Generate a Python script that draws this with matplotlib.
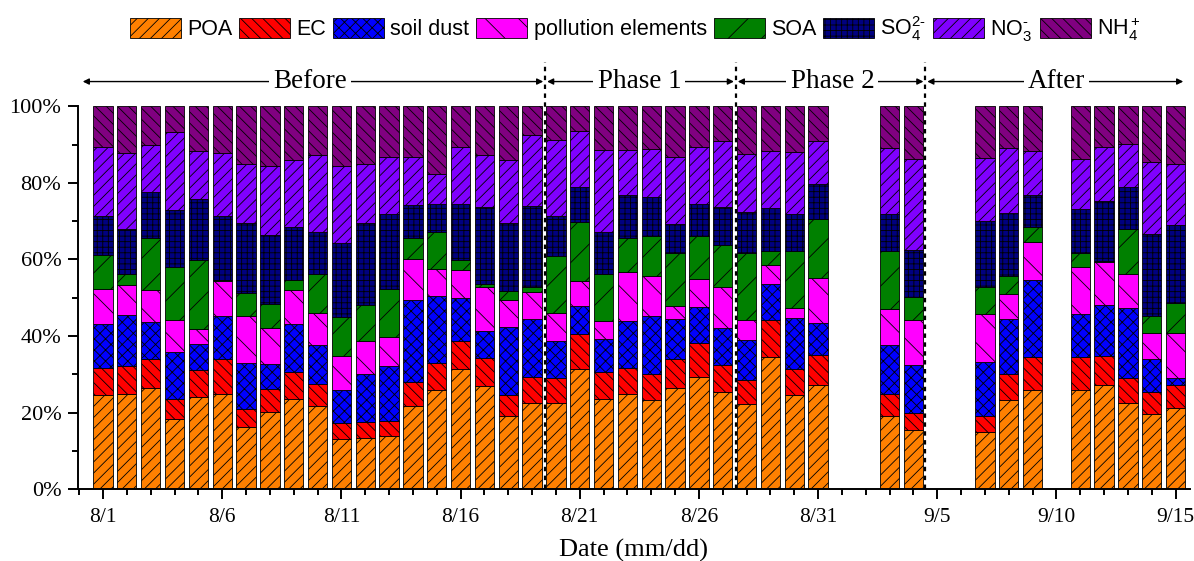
import numpy as np
import matplotlib
matplotlib.use('Agg')
import matplotlib.pyplot as plt
from matplotlib.ticker import MultipleLocator, FuncFormatter

# sampling days (9/1, 9/2, 9/5, 9/6, 9/10 have no data)
dates = ['8/%d' % d for d in range(1, 32)] + \
        ['9/3', '9/4', '9/7', '9/8', '9/9', '9/11', '9/12', '9/13', '9/14', '9/15']

poa = [24.6, 24.9, 26.3, 18.2, 24.0, 24.9, 16.2, 20.1, 23.6, 21.6,
       13.1, 13.4, 13.8, 21.6, 25.8, 31.4, 26.8, 19.0, 22.5, 22.5,
       31.4, 23.6, 24.9, 23.3, 26.4, 29.4, 25.3, 22.3, 34.5, 24.5,
       27.1, 19.2, 15.5, 14.8, 23.3, 26.0, 26.0, 27.3, 22.4, 19.7, 21.2]
ec = [7.1, 7.2, 7.8, 5.3, 7.0, 9.2, 4.6, 6.1, 7.0, 5.9,
      4.1, 4.1, 3.9, 6.3, 7.2, 7.3, 7.5, 5.6, 6.9, 6.6,
      9.0, 7.0, 6.8, 6.7, 7.7, 8.8, 7.0, 6.3, 9.8, 6.9,
      8.0, 5.7, 4.4, 4.4, 6.8, 8.5, 8.5, 7.5, 6.7, 5.6, 6.1]
soil = [11.4, 13.3, 9.6, 12.3, 6.8, 11.3, 12.2, 6.6, 12.6, 10.2,
        8.6, 12.6, 14.4, 21.4, 17.4, 11.3, 7.0, 17.8, 15.0, 9.5,
        7.4, 8.7, 12.2, 15.2, 10.4, 9.4, 9.9, 10.3, 9.2, 13.3,
        8.3, 12.7, 12.6, 14.0, 14.4, 20.1, 11.2, 13.5, 18.3, 8.6, 1.8]
pollution = [9.3, 8.0, 8.3, 8.3, 4.0, 9.2, 12.2, 9.3, 8.8, 8.2,
             9.0, 8.5, 7.6, 10.8, 7.0, 7.2, 11.4, 6.9, 7.1, 7.3,
             6.6, 4.6, 12.9, 10.5, 3.4, 7.2, 10.5, 5.4, 5.0, 2.5,
             11.8, 9.4, 11.8, 12.5, 6.6, 10.0, 12.4, 11.1, 8.8, 7.0, 11.8]
soa = [8.7, 2.7, 13.5, 14.0, 18.0, 0.3, 6.1, 6.2, 2.6, 10.4,
       10.2, 9.4, 12.5, 5.4, 9.8, 2.6, 1.0, 2.4, 1.2, 15.0,
       15.5, 12.4, 8.7, 10.5, 13.8, 11.4, 11.2, 17.4, 3.7, 15.1,
       15.5, 15.2, 5.9, 7.1, 4.6, 4.0, 3.5, 0.3, 11.7, 4.3, 7.8]
so4 = [10.3, 11.8, 12.1, 14.8, 16.0, 16.8, 18.1, 18.1, 14.0, 10.9,
       19.4, 21.4, 19.7, 8.7, 7.3, 14.7, 19.9, 17.7, 21.3, 10.5,
       9.0, 10.9, 11.4, 10.2, 7.6, 8.3, 9.9, 10.8, 11.3, 9.6,
       9.0, 9.7, 12.2, 17.3, 16.4, 8.3, 11.6, 15.9, 11.0, 21.4, 20.3]
no3 = [17.9, 19.9, 12.4, 20.5, 12.6, 16.4, 15.5, 17.9, 17.3, 20.1,
       20.1, 15.5, 15.0, 12.7, 7.8, 14.8, 13.7, 16.5, 18.4, 19.7,
       14.8, 21.3, 11.6, 12.5, 17.6, 14.8, 17.2, 15.1, 14.9, 16.1,
       11.3, 17.2, 23.8, 16.5, 17.0, 11.5, 13.0, 14.0, 11.2, 19.0, 15.9]
nh4 = [10.7, 12.2, 10.0, 6.6, 11.6, 12.2, 15.1, 15.7, 14.1, 12.7,
       15.5, 15.1, 13.1, 13.1, 17.7, 10.7, 12.7, 14.1, 7.6, 8.9,
       6.3, 11.5, 11.5, 11.1, 13.1, 10.7, 9.0, 12.4, 11.6, 12.0,
       9.0, 10.9, 13.8, 13.4, 10.9, 11.6, 13.8, 10.7, 9.9, 14.4, 15.1]

labels = ['POA', 'EC', 'soil dust', 'pollution elements', 'SOA',
          r'SO$_4^{2\text{-}}$', r'NO$_3^{\text{-}}$', r'NH$_4^+$']
tick_dates = ['8/1', '8/6', '8/11', '8/16', '8/21', '8/26', '8/31', '9/5', '9/10', '9/15']
phases = ['Before', 'Phase 1', 'Phase 2', 'After']
phase_bounds = [18.55, 26.55, 34.5]   # between 8/19|8/20, 8/27|8/28, 9/4|9/5


def day_index(s):
    m, d = s.split('/')
    return (int(m) - 8) * 31 + int(d) - 1


plt.rcParams['hatch.linewidth'] = 0.6
plt.rcParams['mathtext.fontset'] = 'custom'
plt.rcParams['mathtext.rm'] = 'Liberation Sans'
plt.rcParams['mathtext.it'] = 'Liberation Sans'

x = np.array([day_index(d) for d in dates])
data = np.array([poa, ec, soil, pollution, soa, so4, no3, nh4])
data = data / data.sum(axis=0) * 100

colors = ['#FF8000', '#FF0000', '#0000FF', '#FF00FF', '#008000', '#000080', '#8000FF', '#800080']
hatches = ['///', '\\\\\\', 'xxx', '\\', '/', '+++', '///', '\\\\\\']

fig = plt.figure(figsize=(11.94, 5.61), dpi=100)
ax = fig.add_axes([0.0653, 0.1283, 0.9313, 0.682])

bottom = np.zeros(len(dates))
handles = []
for i in range(len(labels)):
    b = ax.bar(x, data[i], 0.81, bottom=bottom, color=colors[i], hatch=hatches[i],
               edgecolor='black', linewidth=0.6, label=labels[i])
    handles.append(b)
    bottom += data[i]

ax.set_xlim(-1.05, 45.6)
ax.set_ylim(0, 100)
ax.spines['top'].set_visible(False)
ax.spines['right'].set_visible(False)
ax.spines['left'].set_linewidth(1.4)
ax.spines['bottom'].set_linewidth(1.4)

ax.set_xticks([day_index(d) for d in tick_dates])
ax.set_xticklabels(tick_dates, family='Liberation Serif', fontsize=15.5)
ax.xaxis.set_minor_locator(MultipleLocator(1))
ax.yaxis.set_major_locator(MultipleLocator(20))
ax.yaxis.set_minor_locator(MultipleLocator(10))
ax.yaxis.set_major_formatter(FuncFormatter(lambda v, p: '%d%%' % v))
for lab in ax.get_yticklabels():
    lab.set_family('Liberation Serif')
    lab.set_fontsize(16)
ax.tick_params(which='major', length=7, width=1.4, direction='out')
ax.tick_params(axis='y', which='major', pad=5)
ax.tick_params(axis='x', which='major', pad=7)
ax.tick_params(which='minor', length=4, width=1.4, direction='out')
ax.set_xlabel('Date (mm/dd)', family='Liberation Serif', fontsize=19, labelpad=8)

# phase separators and arrows
ytop = 111.5
yarr = 106.5
for pb in phase_bounds:
    ax.plot([pb, pb], [0, ytop], color='black', lw=1.6, ls=(0, (2.0, 2.0)),
            clip_on=False, zorder=5)

edges = [-0.85] + phase_bounds + [45.4]
text_x = [8.7, 22.5, 30.6, 40.0]
for k in range(4):
    x0 = edges[k] + (0.08 if k > 0 else 0)
    x1 = edges[k + 1] - 0.08
    ax.annotate('', xy=(x1, yarr), xytext=(x0, yarr),
                arrowprops=dict(arrowstyle='<|-|>', color='black', lw=1.0,
                                mutation_scale=9, shrinkA=0, shrinkB=0),
                annotation_clip=False)
    ax.text(text_x[k], yarr, phases[k], ha='center', va='center',
            family='Liberation Serif', fontsize=19.5, clip_on=False,
            bbox=dict(facecolor='white', edgecolor='none', pad=3))

fig.legend(handles=handles, labels=labels, loc='center', bbox_to_anchor=(0.532, 0.949),
           ncol=8, frameon=False, prop={'family': 'Liberation Sans', 'size': 15.5},
           handlelength=2.37, handleheight=1.07, handletextpad=0.28, columnspacing=0.33)

fig.savefig('out.png', dpi=100)
